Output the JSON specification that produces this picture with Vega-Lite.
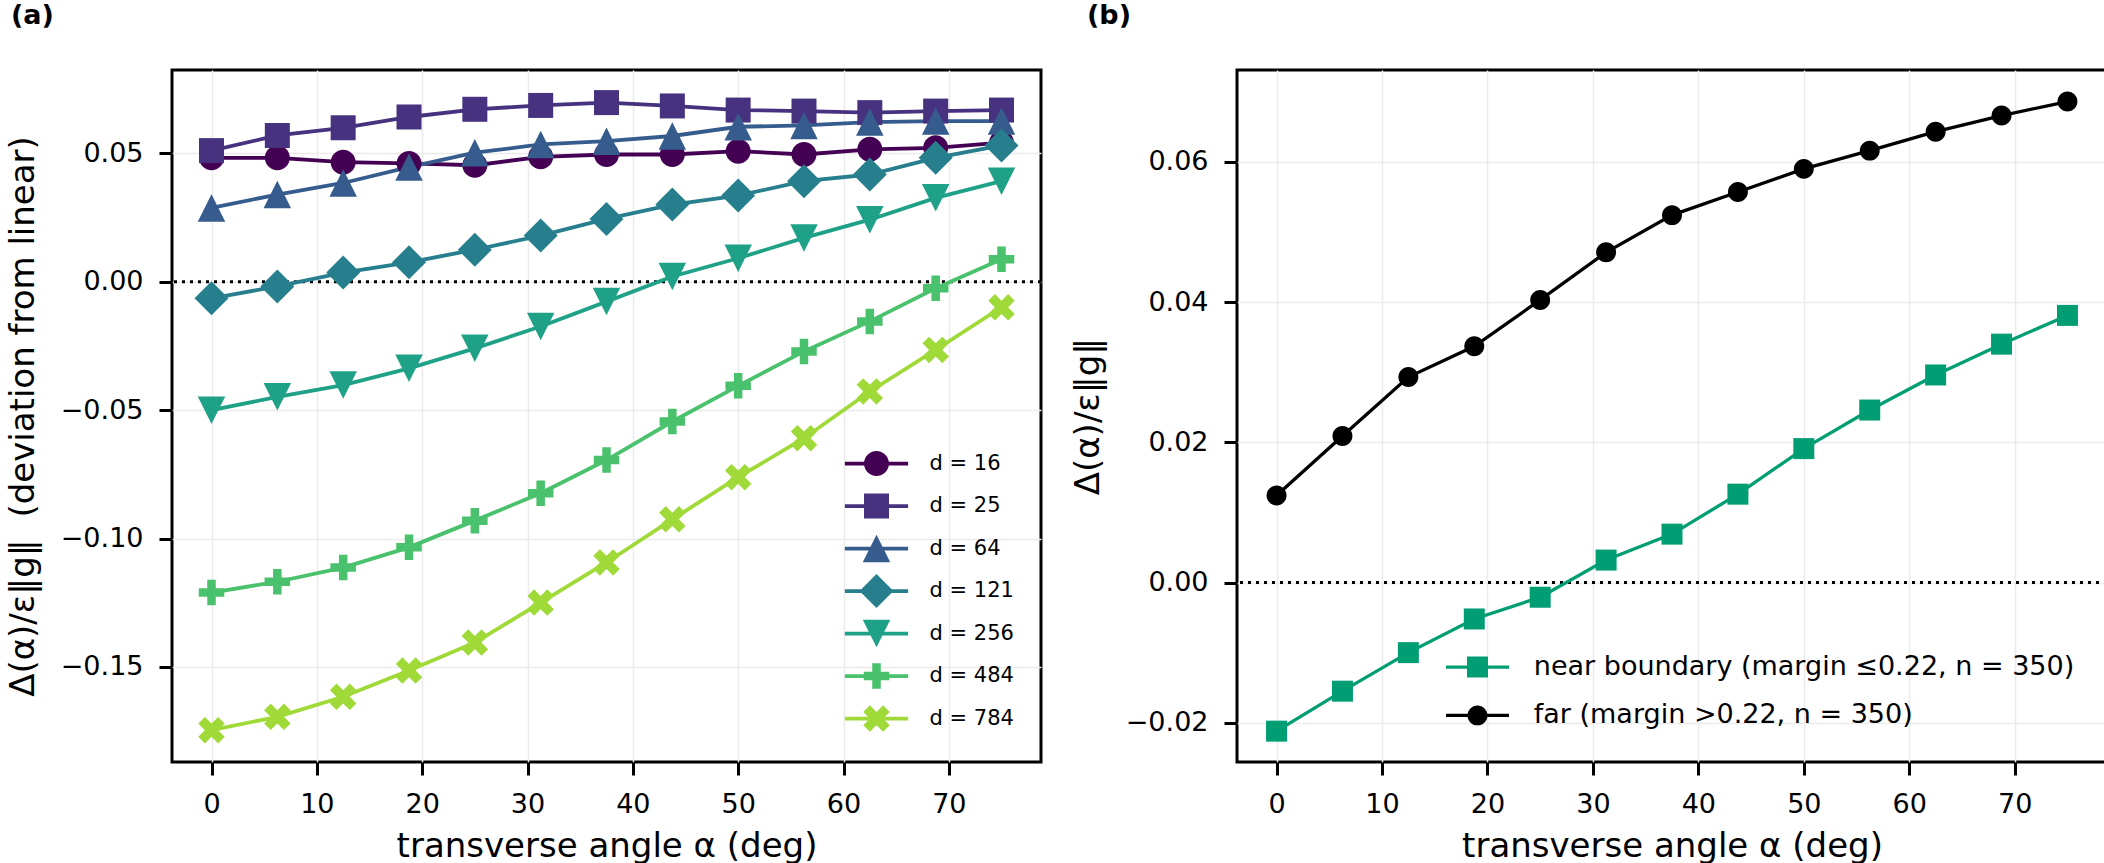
{
  "$schema": "https://vega.github.io/schema/vega-lite/v6.json",
  "background": "white",
  "padding": {"left": 4, "top": 0, "right": 0, "bottom": 0},
  "spacing": 25,
  "config": {
    "view": {"stroke": "black", "strokeWidth": 3},
    "axis": {"domain": false, "tickColor": "black", "tickWidth": 3, "tickSize": 13, "labelFont": "DejaVu Sans", "labelFontSize": 27, "labelColor": "black", "labelPadding": 16, "titleFont": "DejaVu Sans", "titleFontSize": 34, "titleFontWeight": "normal", "titleColor": "black", "gridColor": "#ebebeb", "gridWidth": 1.5, "labelFlush": false, "labelOverlap": false},
    "axisX": {"titlePadding": 12},
    "axisY": {"titlePadding": 20},
    "legend": {"labelFont": "DejaVu Sans", "labelColor": "black", "padding": 0, "offset": 0, "symbolStrokeWidth": 0, "symbolOpacity": 1, "labelLimit": 1000}
  },
  "datasets": {
    "a": [
      {"series": "d = 16", "alpha": 0, "value": 0.0483}, {"series": "d = 16", "alpha": 6.25, "value": 0.0483}, {"series": "d = 16", "alpha": 12.5, "value": 0.0466}, {"series": "d = 16", "alpha": 18.75, "value": 0.0461}, {"series": "d = 16", "alpha": 25, "value": 0.0454}, {"series": "d = 16", "alpha": 31.25, "value": 0.0487}, {"series": "d = 16", "alpha": 37.5, "value": 0.0496}, {"series": "d = 16", "alpha": 43.75, "value": 0.0496}, {"series": "d = 16", "alpha": 50, "value": 0.0509}, {"series": "d = 16", "alpha": 56.25, "value": 0.0496}, {"series": "d = 16", "alpha": 62.5, "value": 0.0516}, {"series": "d = 16", "alpha": 68.75, "value": 0.0522}, {"series": "d = 16", "alpha": 75, "value": 0.0542},
      {"series": "d = 25", "alpha": 0, "value": 0.0511}, {"series": "d = 25", "alpha": 6.25, "value": 0.0570}, {"series": "d = 25", "alpha": 12.5, "value": 0.0600}, {"series": "d = 25", "alpha": 18.75, "value": 0.0642}, {"series": "d = 25", "alpha": 25, "value": 0.0672}, {"series": "d = 25", "alpha": 31.25, "value": 0.0687}, {"series": "d = 25", "alpha": 37.5, "value": 0.0698}, {"series": "d = 25", "alpha": 43.75, "value": 0.0685}, {"series": "d = 25", "alpha": 50, "value": 0.0669}, {"series": "d = 25", "alpha": 56.25, "value": 0.0665}, {"series": "d = 25", "alpha": 62.5, "value": 0.0659}, {"series": "d = 25", "alpha": 68.75, "value": 0.0665}, {"series": "d = 25", "alpha": 75, "value": 0.0669},
      {"series": "d = 64", "alpha": 0, "value": 0.0288}, {"series": "d = 64", "alpha": 6.25, "value": 0.0340}, {"series": "d = 64", "alpha": 12.5, "value": 0.0385}, {"series": "d = 64", "alpha": 18.75, "value": 0.0447}, {"series": "d = 64", "alpha": 25, "value": 0.0503}, {"series": "d = 64", "alpha": 31.25, "value": 0.0535}, {"series": "d = 64", "alpha": 37.5, "value": 0.0548}, {"series": "d = 64", "alpha": 43.75, "value": 0.0568}, {"series": "d = 64", "alpha": 50, "value": 0.0604}, {"series": "d = 64", "alpha": 56.25, "value": 0.0609}, {"series": "d = 64", "alpha": 62.5, "value": 0.0622}, {"series": "d = 64", "alpha": 68.75, "value": 0.0626}, {"series": "d = 64", "alpha": 75, "value": 0.0626},
      {"series": "d = 121", "alpha": 0, "value": -0.0064}, {"series": "d = 121", "alpha": 6.25, "value": -0.0018}, {"series": "d = 121", "alpha": 12.5, "value": 0.0036}, {"series": "d = 121", "alpha": 18.75, "value": 0.0076}, {"series": "d = 121", "alpha": 25, "value": 0.0125}, {"series": "d = 121", "alpha": 31.25, "value": 0.0180}, {"series": "d = 121", "alpha": 37.5, "value": 0.0245}, {"series": "d = 121", "alpha": 43.75, "value": 0.0301}, {"series": "d = 121", "alpha": 50, "value": 0.0336}, {"series": "d = 121", "alpha": 56.25, "value": 0.0392}, {"series": "d = 121", "alpha": 62.5, "value": 0.0418}, {"series": "d = 121", "alpha": 68.75, "value": 0.0483}, {"series": "d = 121", "alpha": 75, "value": 0.0531},
      {"series": "d = 256", "alpha": 0, "value": -0.0500}, {"series": "d = 256", "alpha": 6.25, "value": -0.0448}, {"series": "d = 256", "alpha": 12.5, "value": -0.0402}, {"series": "d = 256", "alpha": 18.75, "value": -0.0337}, {"series": "d = 256", "alpha": 25, "value": -0.0259}, {"series": "d = 256", "alpha": 31.25, "value": -0.0174}, {"series": "d = 256", "alpha": 37.5, "value": -0.0077}, {"series": "d = 256", "alpha": 43.75, "value": 0.0021}, {"series": "d = 256", "alpha": 50, "value": 0.0092}, {"series": "d = 256", "alpha": 56.25, "value": 0.0171}, {"series": "d = 256", "alpha": 62.5, "value": 0.0242}, {"series": "d = 256", "alpha": 68.75, "value": 0.0327}, {"series": "d = 256", "alpha": 75, "value": 0.0392},
      {"series": "d = 484", "alpha": 0, "value": -0.1210}, {"series": "d = 484", "alpha": 6.25, "value": -0.1168}, {"series": "d = 484", "alpha": 12.5, "value": -0.1113}, {"series": "d = 484", "alpha": 18.75, "value": -0.1034}, {"series": "d = 484", "alpha": 25, "value": -0.0930}, {"series": "d = 484", "alpha": 31.25, "value": -0.0823}, {"series": "d = 484", "alpha": 37.5, "value": -0.0694}, {"series": "d = 484", "alpha": 43.75, "value": -0.0544}, {"series": "d = 484", "alpha": 50, "value": -0.0405}, {"series": "d = 484", "alpha": 56.25, "value": -0.0271}, {"series": "d = 484", "alpha": 62.5, "value": -0.0154}, {"series": "d = 484", "alpha": 68.75, "value": -0.0025}, {"series": "d = 484", "alpha": 75, "value": 0.0088},
      {"series": "d = 784", "alpha": 0, "value": -0.1746}, {"series": "d = 784", "alpha": 6.25, "value": -0.1694}, {"series": "d = 784", "alpha": 12.5, "value": -0.1616}, {"series": "d = 784", "alpha": 18.75, "value": -0.1514}, {"series": "d = 784", "alpha": 25, "value": -0.1405}, {"series": "d = 784", "alpha": 31.25, "value": -0.1249}, {"series": "d = 784", "alpha": 37.5, "value": -0.1093}, {"series": "d = 784", "alpha": 43.75, "value": -0.0925}, {"series": "d = 784", "alpha": 50, "value": -0.0761}, {"series": "d = 784", "alpha": 56.25, "value": -0.0609}, {"series": "d = 784", "alpha": 62.5, "value": -0.0427}, {"series": "d = 784", "alpha": 68.75, "value": -0.0265}, {"series": "d = 784", "alpha": 75, "value": -0.0099}
    ],
    "b": [
      {"series": "near boundary (margin ≤0.22, n = 350)", "alpha": 0, "value": -0.0212}, {"series": "near boundary (margin ≤0.22, n = 350)", "alpha": 6.25, "value": -0.0155}, {"series": "near boundary (margin ≤0.22, n = 350)", "alpha": 12.5, "value": -0.0100}, {"series": "near boundary (margin ≤0.22, n = 350)", "alpha": 18.75, "value": -0.0052}, {"series": "near boundary (margin ≤0.22, n = 350)", "alpha": 25, "value": -0.0021}, {"series": "near boundary (margin ≤0.22, n = 350)", "alpha": 31.25, "value": 0.0032}, {"series": "near boundary (margin ≤0.22, n = 350)", "alpha": 37.5, "value": 0.0069}, {"series": "near boundary (margin ≤0.22, n = 350)", "alpha": 43.75, "value": 0.0126}, {"series": "near boundary (margin ≤0.22, n = 350)", "alpha": 50, "value": 0.0191}, {"series": "near boundary (margin ≤0.22, n = 350)", "alpha": 56.25, "value": 0.0246}, {"series": "near boundary (margin ≤0.22, n = 350)", "alpha": 62.5, "value": 0.0296}, {"series": "near boundary (margin ≤0.22, n = 350)", "alpha": 68.75, "value": 0.0340}, {"series": "near boundary (margin ≤0.22, n = 350)", "alpha": 75, "value": 0.0381},
      {"series": "far (margin >0.22, n = 350)", "alpha": 0, "value": 0.0124}, {"series": "far (margin >0.22, n = 350)", "alpha": 6.25, "value": 0.0209}, {"series": "far (margin >0.22, n = 350)", "alpha": 12.5, "value": 0.0293}, {"series": "far (margin >0.22, n = 350)", "alpha": 18.75, "value": 0.0337}, {"series": "far (margin >0.22, n = 350)", "alpha": 25, "value": 0.0403}, {"series": "far (margin >0.22, n = 350)", "alpha": 31.25, "value": 0.0471}, {"series": "far (margin >0.22, n = 350)", "alpha": 37.5, "value": 0.0524}, {"series": "far (margin >0.22, n = 350)", "alpha": 43.75, "value": 0.0557}, {"series": "far (margin >0.22, n = 350)", "alpha": 50, "value": 0.0590}, {"series": "far (margin >0.22, n = 350)", "alpha": 56.25, "value": 0.0616}, {"series": "far (margin >0.22, n = 350)", "alpha": 62.5, "value": 0.0643}, {"series": "far (margin >0.22, n = 350)", "alpha": 68.75, "value": 0.0666}, {"series": "far (margin >0.22, n = 350)", "alpha": 75, "value": 0.0686}
    ],
    "zero": [{"level": 0}]
  },
  "hconcat": [
    {
      "width": 869,
      "height": 692,
      "title": {"text": "(a)", "anchor": "start", "frame": "group", "dx": -161, "offset": 40, "font": "DejaVu Sans", "fontSize": 27, "fontWeight": "bold", "color": "black"},
      "resolve": {"scale": {"shape": "independent", "color": "independent"}},
      "layer": [
        {
          "data": {"name": "zero"},
          "mark": {"type": "rule", "color": "black", "strokeWidth": 3, "strokeDash": [3, 5]},
          "encoding": {
            "y": {"field": "level", "type": "quantitative", "scale": {"domain": [-0.187, 0.0825], "nice": false, "zero": false}, "axis": {"values": [-0.15, -0.1, -0.05, 0, 0.05], "format": ".2f", "title": "Δ(α)/ε‖g‖\u00a0 (deviation from linear)"}}
          }
        },
        {
          "data": {"name": "a"},
          "mark": {"type": "line", "strokeWidth": 3.8},
          "encoding": {
            "x": {"field": "alpha", "type": "quantitative", "scale": {"domain": [-3.75, 78.75], "nice": false, "zero": false}, "axis": {"values": [0, 10, 20, 30, 40, 50, 60, 70], "format": "d", "title": "transverse angle α (deg)"}},
            "y": {"field": "value", "type": "quantitative", "scale": {"domain": [-0.187, 0.0825], "nice": false, "zero": false}, "axis": {"values": [-0.15, -0.1, -0.05, 0, 0.05], "format": ".2f", "title": "Δ(α)/ε‖g‖\u00a0 (deviation from linear)"}},
            "color": {"field": "series", "type": "nominal", "scale": {"domain": ["d = 16", "d = 25", "d = 64", "d = 121", "d = 256", "d = 484", "d = 784"], "range": ["#440154", "#46327e", "#365c8d", "#277f8e", "#1fa187", "#4ac16d", "#a0da39"]}, "legend": null},
            "order": {"field": "alpha", "type": "quantitative"}
          }
        },
        {
          "data": {"name": "a"},
          "mark": {"type": "point", "filled": true, "opacity": 1, "size": 625, "strokeWidth": 0},
          "encoding": {
            "x": {"field": "alpha", "type": "quantitative", "scale": {"domain": [-3.75, 78.75], "nice": false, "zero": false}, "axis": {"values": [0, 10, 20, 30, 40, 50, 60, 70], "format": "d", "title": "transverse angle α (deg)"}},
            "y": {"field": "value", "type": "quantitative", "scale": {"domain": [-0.187, 0.0825], "nice": false, "zero": false}, "axis": {"values": [-0.15, -0.1, -0.05, 0, 0.05], "format": ".2f", "title": "Δ(α)/ε‖g‖\u00a0 (deviation from linear)"}},
            "color": {"field": "series", "type": "nominal", "scale": {"domain": ["d = 16", "d = 25", "d = 64", "d = 121", "d = 256", "d = 484", "d = 784"], "range": ["#440154", "#46327e", "#365c8d", "#277f8e", "#1fa187", "#4ac16d", "#a0da39"]}, "legend": null},
            "shape": {"field": "series", "type": "nominal", "scale": {"domain": ["d = 16", "d = 25", "d = 64", "d = 121", "d = 256", "d = 484", "d = 784"], "range": [
              "M1,0A1,1,0,1,1,-1,0A1,1,0,1,1,1,0Z",
              "M-1,-1L1,-1L1,1L-1,1Z",
              "M0,-1.1L1.1,1.1L-1.1,1.1Z",
              "M0,-1.36L1.36,0L0,1.36L-1.36,0Z",
              "M-1.1,-1.1L1.1,-1.1L0,1.1Z",
              "M-0.34,-1.02L0.34,-1.02L0.34,-0.34L1.02,-0.34L1.02,0.34L0.34,0.34L0.34,1.02L-0.34,1.02L-0.34,0.34L-1.02,0.34L-1.02,-0.34L-0.34,-0.34Z",
              "M-0.53,-1.06L0,-0.53L0.53,-1.06L1.06,-0.53L0.53,0L1.06,0.53L0.53,1.06L0,0.53L-0.53,1.06L-1.06,0.53L-0.53,0L-1.06,-0.53Z"
            ]}, "legend": null}
          }
        },
        {
          "data": {"name": "a"},
          "transform": [{"filter": "datum.alpha < -100"}],
          "mark": {"type": "point", "filled": true, "opacity": 1, "size": 625, "strokeWidth": 0},
          "encoding": {
            "x": {"field": "alpha", "type": "quantitative", "scale": {"domain": [-3.75, 78.75], "nice": false, "zero": false}, "axis": {"values": [0, 10, 20, 30, 40, 50, 60, 70], "format": "d", "title": "transverse angle α (deg)"}},
            "y": {"field": "value", "type": "quantitative", "scale": {"domain": [-0.187, 0.0825], "nice": false, "zero": false}, "axis": {"values": [-0.15, -0.1, -0.05, 0, 0.05], "format": ".2f", "title": "Δ(α)/ε‖g‖\u00a0 (deviation from linear)"}},
            "color": {"field": "series", "type": "nominal", "scale": {"domain": ["d = 16", "d = 25", "d = 64", "d = 121", "d = 256", "d = 484", "d = 784"], "range": ["#440154", "#46327e", "#365c8d", "#277f8e", "#1fa187", "#4ac16d", "#a0da39"]},
              "legend": {"orient": "none", "legendX": 692, "legendY": 381, "title": null, "labelFontSize": 21, "labelOffset": 40.5, "rowPadding": 7.5, "symbolSize": 625, "symbolStrokeWidth": 0, "symbolOpacity": 1}},
            "shape": {"field": "series", "type": "nominal", "scale": {"domain": ["d = 16", "d = 25", "d = 64", "d = 121", "d = 256", "d = 484", "d = 784"], "range": [
              "M-2.53,-0.15L2.53,-0.15L2.53,0.15L-2.53,0.15ZM1,0A1,1,0,1,1,-1,0A1,1,0,1,1,1,0ZM0,-1.4L0,-1.4M0,1.4L0,1.4",
              "M-2.53,-0.15L2.53,-0.15L2.53,0.15L-2.53,0.15ZM-1,-1L1,-1L1,1L-1,1ZM0,-1.4L0,-1.4M0,1.4L0,1.4",
              "M-2.53,-0.15L2.53,-0.15L2.53,0.15L-2.53,0.15ZM0,-1.1L1.1,1.1L-1.1,1.1ZM0,-1.4L0,-1.4M0,1.4L0,1.4",
              "M-2.53,-0.15L2.53,-0.15L2.53,0.15L-2.53,0.15ZM0,-1.36L1.36,0L0,1.36L-1.36,0ZM0,-1.4L0,-1.4M0,1.4L0,1.4",
              "M-2.53,-0.15L2.53,-0.15L2.53,0.15L-2.53,0.15ZM-1.1,-1.1L1.1,-1.1L0,1.1ZM0,-1.4L0,-1.4M0,1.4L0,1.4",
              "M-2.53,-0.15L2.53,-0.15L2.53,0.15L-2.53,0.15ZM-0.34,-1.02L0.34,-1.02L0.34,-0.34L1.02,-0.34L1.02,0.34L0.34,0.34L0.34,1.02L-0.34,1.02L-0.34,0.34L-1.02,0.34L-1.02,-0.34L-0.34,-0.34ZM0,-1.4L0,-1.4M0,1.4L0,1.4",
              "M-2.53,-0.15L2.53,-0.15L2.53,0.15L-2.53,0.15ZM-0.53,-1.06L0,-0.53L0.53,-1.06L1.06,-0.53L0.53,0L1.06,0.53L0.53,1.06L0,0.53L-0.53,1.06L-1.06,0.53L-0.53,0L-1.06,-0.53ZM0,-1.4L0,-1.4M0,1.4L0,1.4"
            ]},
              "legend": {"orient": "none", "legendX": 692, "legendY": 381, "title": null, "labelFontSize": 21, "labelOffset": 40.5, "rowPadding": 7.5, "symbolSize": 625, "symbolStrokeWidth": 0, "symbolOpacity": 1}}
          }
        }
      ]
    },
    {
      "width": 870,
      "height": 692,
      "title": {"text": "(b)", "anchor": "start", "frame": "group", "dx": -150, "offset": 40, "font": "DejaVu Sans", "fontSize": 27, "fontWeight": "bold", "color": "black"},
      "resolve": {"scale": {"shape": "independent", "color": "independent"}},
      "layer": [
        {
          "data": {"name": "zero"},
          "mark": {"type": "rule", "color": "black", "strokeWidth": 3, "strokeDash": [3, 5]},
          "encoding": {
            "y": {"field": "level", "type": "quantitative", "scale": {"domain": [-0.0256, 0.0731], "nice": false, "zero": false}, "axis": {"values": [-0.02, 0, 0.02, 0.04, 0.06], "format": ".2f", "title": "Δ(α)/ε‖g‖"}}
          }
        },
        {
          "data": {"name": "b"},
          "mark": {"type": "line", "strokeWidth": 3.3},
          "encoding": {
            "x": {"field": "alpha", "type": "quantitative", "scale": {"domain": [-3.75, 78.75], "nice": false, "zero": false}, "axis": {"values": [0, 10, 20, 30, 40, 50, 60, 70], "format": "d", "title": "transverse angle α (deg)"}},
            "y": {"field": "value", "type": "quantitative", "scale": {"domain": [-0.0256, 0.0731], "nice": false, "zero": false}, "axis": {"values": [-0.02, 0, 0.02, 0.04, 0.06], "format": ".2f", "title": "Δ(α)/ε‖g‖"}},
            "color": {"field": "series", "type": "nominal", "scale": {"domain": ["near boundary (margin ≤0.22, n = 350)", "far (margin >0.22, n = 350)"], "range": ["#029e73", "#000000"]}, "legend": null},
            "order": {"field": "alpha", "type": "quantitative"}
          }
        },
        {
          "data": {"name": "b"},
          "mark": {"type": "point", "filled": true, "opacity": 1, "size": 441, "strokeWidth": 0},
          "encoding": {
            "x": {"field": "alpha", "type": "quantitative", "scale": {"domain": [-3.75, 78.75], "nice": false, "zero": false}, "axis": {"values": [0, 10, 20, 30, 40, 50, 60, 70], "format": "d", "title": "transverse angle α (deg)"}},
            "y": {"field": "value", "type": "quantitative", "scale": {"domain": [-0.0256, 0.0731], "nice": false, "zero": false}, "axis": {"values": [-0.02, 0, 0.02, 0.04, 0.06], "format": ".2f", "title": "Δ(α)/ε‖g‖"}},
            "color": {"field": "series", "type": "nominal", "scale": {"domain": ["near boundary (margin ≤0.22, n = 350)", "far (margin >0.22, n = 350)"], "range": ["#029e73", "#000000"]}, "legend": null},
            "shape": {"field": "series", "type": "nominal", "scale": {"domain": ["near boundary (margin ≤0.22, n = 350)", "far (margin >0.22, n = 350)"], "range": [
              "M-1,-1L1,-1L1,1L-1,1Z",
              "M0.95,0A0.95,0.95,0,1,1,-0.95,0A0.95,0.95,0,1,1,0.95,0Z"
            ]}, "legend": null}
          }
        },
        {
          "data": {"name": "b"},
          "transform": [{"filter": "datum.alpha < -100"}],
          "mark": {"type": "point", "filled": true, "opacity": 1, "size": 441, "strokeWidth": 0},
          "encoding": {
            "x": {"field": "alpha", "type": "quantitative", "scale": {"domain": [-3.75, 78.75], "nice": false, "zero": false}, "axis": {"values": [0, 10, 20, 30, 40, 50, 60, 70], "format": "d", "title": "transverse angle α (deg)"}},
            "y": {"field": "value", "type": "quantitative", "scale": {"domain": [-0.0256, 0.0731], "nice": false, "zero": false}, "axis": {"values": [-0.02, 0, 0.02, 0.04, 0.06], "format": ".2f", "title": "Δ(α)/ε‖g‖"}},
            "color": {"field": "series", "type": "nominal", "scale": {"domain": ["near boundary (margin ≤0.22, n = 350)", "far (margin >0.22, n = 350)"], "range": ["#029e73", "#000000"]},
              "legend": {"orient": "none", "legendX": 227, "legendY": 583.6, "title": null, "labelFontSize": 27, "labelOffset": 42.8, "rowPadding": 17.3, "symbolSize": 441, "symbolStrokeWidth": 0, "symbolOpacity": 1}},
            "shape": {"field": "series", "type": "nominal", "scale": {"domain": ["near boundary (margin ≤0.22, n = 350)", "far (margin >0.22, n = 350)"], "range": [
              "M-3,-0.157L3,-0.157L3,0.157L-3,0.157ZM-1,-1L1,-1L1,1L-1,1ZM0,-1.4L0,-1.4M0,1.4L0,1.4",
              "M-3,-0.157L3,-0.157L3,0.157L-3,0.157ZM0.95,0A0.95,0.95,0,1,1,-0.95,0A0.95,0.95,0,1,1,0.95,0ZM0,-1.4L0,-1.4M0,1.4L0,1.4"
            ]},
              "legend": {"orient": "none", "legendX": 227, "legendY": 583.6, "title": null, "labelFontSize": 27, "labelOffset": 42.8, "rowPadding": 17.3, "symbolSize": 441, "symbolStrokeWidth": 0, "symbolOpacity": 1}}
          }
        }
      ]
    }
  ]
}
